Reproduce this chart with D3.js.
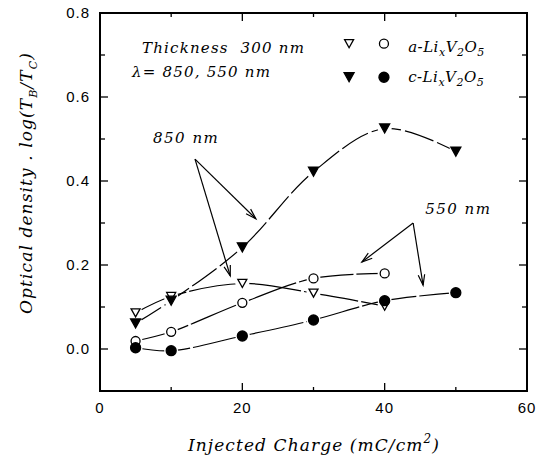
<!DOCTYPE html>
<html><head><meta charset="utf-8">
<script src="https://cdn.jsdelivr.net/npm/d3@7"></script>
<style>body{margin:0;background:#fff}svg{display:block}</style>
</head><body><svg id="c" width="543" height="465"></svg>
<script>
// Data
const a850X = [5, 10, 20, 30, 40];
const a850Y = [0.086, 0.125, 0.156, 0.133, 0.102];
const c850X = [5, 10, 20, 30, 40, 50];
const c850Y = [0.061, 0.115, 0.242, 0.422, 0.525, 0.470];
const a550X = [5, 10, 20, 30, 40];
const a550Y = [0.019, 0.041, 0.110, 0.168, 0.180];
const c550X = [5, 10, 20, 30, 40, 50];
const c550Y = [0.003, -0.004, 0.031, 0.069, 0.115, 0.134];
const xTicks = [0, 20, 40, 60];
const yTicks = [0.0, 0.2, 0.4, 0.6, 0.8];

const W = 543, H = 465;
const m = {l: 100, r: 16, t: 13, b: 74};
const svg = d3.select('#c');
const x = d3.scaleLinear().domain([0, 60]).range([m.l, W - m.r]);
const y = d3.scaleLinear().domain([-0.1, 0.8]).range([H - m.b, m.t]);
const serif = "'DejaVu Serif', serif";
const sans = "'Liberation Sans', Arial, sans-serif";

// frame
svg.append('rect').attr('x', x(0)).attr('y', y(0.8)).attr('width', x(60) - x(0)).attr('height', y(-0.1) - y(0.8))
  .attr('fill', 'none').attr('stroke', '#000').attr('stroke-width', 2);

// ticks (inward) on all sides
const xMajor = [20, 40], xMinor = [10, 30, 50];
const yMajor = [0.0, 0.2, 0.4, 0.6], yMinor = [0.1, 0.3, 0.5, 0.7];
const tk = svg.append('g').attr('stroke', '#000').attr('stroke-width', 1.3);
xMajor.forEach(v => {
  tk.append('line').attr('x1', x(v)).attr('x2', x(v)).attr('y1', y(-0.1)).attr('y2', y(-0.1) - 8);
  tk.append('line').attr('x1', x(v)).attr('x2', x(v)).attr('y1', y(0.8)).attr('y2', y(0.8) + 8);
});
xMinor.forEach(v => {
  tk.append('line').attr('x1', x(v)).attr('x2', x(v)).attr('y1', y(-0.1)).attr('y2', y(-0.1) - 4);
  tk.append('line').attr('x1', x(v)).attr('x2', x(v)).attr('y1', y(0.8)).attr('y2', y(0.8) + 4);
});
yMajor.forEach(v => {
  tk.append('line').attr('x1', x(0)).attr('x2', x(0) + 8).attr('y1', y(v)).attr('y2', y(v));
  tk.append('line').attr('x1', x(60)).attr('x2', x(60) - 8).attr('y1', y(v)).attr('y2', y(v));
});
yMinor.forEach(v => {
  tk.append('line').attr('x1', x(0)).attr('x2', x(0) + 5).attr('y1', y(v)).attr('y2', y(v));
  tk.append('line').attr('x1', x(60)).attr('x2', x(60) - 5).attr('y1', y(v)).attr('y2', y(v));
});

// tick labels
svg.append('g').selectAll('text').data(xTicks).join('text')
  .attr('x', d => x(d)).attr('y', y(-0.1) + 22).attr('text-anchor', 'middle')
  .attr('font-family', sans).attr('font-size', 15).attr('letter-spacing', 1).text(d => d);
svg.append('g').selectAll('text').data(yTicks).join('text')
  .attr('x', x(0) - 10).attr('y', d => y(d) + 5).attr('text-anchor', 'end')
  .attr('font-family', sans).attr('font-size', 15).attr('letter-spacing', 1).text(d => d.toFixed(1));

// axis titles
const xt = svg.append('text').attr('x', 314).attr('y', 451).attr('text-anchor', 'middle')
  .attr('font-family', serif).attr('font-style', 'italic').attr('font-size', 17).attr('letter-spacing', 1.1);
xt.append('tspan').text('Injected Charge (mC/cm');
xt.append('tspan').attr('dy', -8).attr('font-size', 12).text('2');
xt.append('tspan').attr('dy', 8).text(')');

const yt = svg.append('text').attr('transform', `translate(32,${183}) rotate(-90)`).attr('text-anchor', 'middle')
  .attr('font-family', serif).attr('font-style', 'italic').attr('font-size', 17).attr('letter-spacing', 1.1);
yt.append('tspan').text('Optical density . log(T');
yt.append('tspan').attr('dy', 5).attr('font-size', 11).text('B');
yt.append('tspan').attr('dy', -5).text('/T');
yt.append('tspan').attr('dy', 5).attr('font-size', 11).text('C');
yt.append('tspan').attr('dy', -5).text(')');

// curves
const line = d3.line().x(d => x(d[0])).y(d => y(d[1])).curve(d3.curveCatmullRom.alpha(0.5));
const series = [
  {xs: a850X, ys: a850Y, type: 'tri', fill: '#fff'},
  {xs: c850X, ys: c850Y, type: 'tri', fill: '#000'},
  {xs: a550X, ys: a550Y, type: 'circ', fill: '#fff'},
  {xs: c550X, ys: c550Y, type: 'circ', fill: '#000'}
];
const gl = svg.append('g');
series.forEach((s, i) => {
  const pts = s.xs.map((v, j) => [v, s.ys[j]]);
  gl.append('path').attr('d', line(pts)).attr('fill', 'none').attr('stroke', '#000').attr('stroke-width', 1.2)
    .attr('stroke-dasharray', i === 1 ? '30,4' : '55,3');
});
// halos to create gaps near markers
const gh = svg.append('g');
series.forEach(s => {
  s.xs.forEach((v, j) => {
    gh.append('circle').attr('cx', x(v)).attr('cy', y(s.ys[j])).attr('r', 7).attr('fill', '#fff');
  });
});
function triPath(cx, cy, s) {
  const h = s * 0.9;
  return `M${cx - s / 2},${cy - h / 2}L${cx + s / 2},${cy - h / 2}L${cx},${cy + h / 2}Z`;
}
function drawMarker(g, type, fill, cx, cy) {
  if (type === 'tri') {
    g.append('path').attr('d', triPath(cx, cy, fill === '#000' ? 10 : 9)).attr('fill', fill).attr('stroke', '#000').attr('stroke-width', 1.3);
  } else {
    g.append('circle').attr('cx', cx).attr('cy', cy).attr('r', fill === '#000' ? 5 : 4.5).attr('fill', fill).attr('stroke', '#000').attr('stroke-width', 1.3);
  }
}
const gm = svg.append('g');
series.forEach(s => {
  s.xs.forEach((v, j) => drawMarker(gm, s.type, s.fill, x(v), y(s.ys[j])));
});

// legend
const lg = svg.append('g').attr('font-family', serif).attr('font-style', 'italic').attr('font-size', 15).attr('letter-spacing', 1.2);
lg.append('text').attr('x', x(5.9)).attr('y', y(0.705)).attr('xml:space', 'preserve').text('Thickness  300 nm');
lg.append('text').attr('x', x(4.5)).attr('y', y(0.648)).attr('xml:space', 'preserve').text('\u03bb= 850, 550 nm');
drawMarker(lg, 'tri', '#fff', x(35), y(0.727));
drawMarker(lg, 'circ', '#fff', x(39.9), y(0.727));
drawMarker(lg, 'tri', '#000', x(35), y(0.647));
drawMarker(lg, 'circ', '#000', x(39.9), y(0.647));
function chem(prefix, yy) {
  const t = lg.append('text').attr('x', x(43.3)).attr('y', y(yy)).attr('letter-spacing', 0.5);
  t.append('tspan').text(prefix + '-Li');
  t.append('tspan').attr('dy', 4).attr('font-size', 11).text('x');
  t.append('tspan').attr('dy', -4).text('V');
  t.append('tspan').attr('dy', 4).attr('font-size', 11).text('2');
  t.append('tspan').attr('dy', -4).text('O');
  t.append('tspan').attr('dy', 4).attr('font-size', 11).text('5');
}
chem('a', 0.708);
chem('c', 0.636);

// annotations
const ann = svg.append('g').attr('font-family', serif).attr('font-style', 'italic').attr('font-size', 15).attr('letter-spacing', 1.5);
ann.append('text').attr('x', x(7.45)).attr('y', y(0.49)).text('850 nm');
ann.append('text').attr('x', x(45.7)).attr('y', y(0.321)).text('550 nm');
function arrow(x1, y1, x2, y2) {
  const X1 = x(x1), Y1 = y(y1), X2 = x(x2), Y2 = y(y2);
  const a = Math.atan2(Y2 - Y1, X2 - X1), L = 11, sp = 0.3;
  const g = svg.append('g').attr('stroke', '#000').attr('stroke-width', 1.2).attr('fill', 'none');
  g.append('line').attr('x1', X1).attr('y1', Y1).attr('x2', X2).attr('y2', Y2);
  g.append('path').attr('d', `M${X2 - L * Math.cos(a - sp)},${Y2 - L * Math.sin(a - sp)}L${X2},${Y2}L${X2 - L * Math.cos(a + sp)},${Y2 - L * Math.sin(a + sp)}`);
}
arrow(13.35, 0.452, 21.9, 0.31);
arrow(13.35, 0.452, 18.3, 0.174);
arrow(44.0, 0.30, 36.8, 0.207);
arrow(44.0, 0.30, 45.4, 0.152);
</script></body></html>
